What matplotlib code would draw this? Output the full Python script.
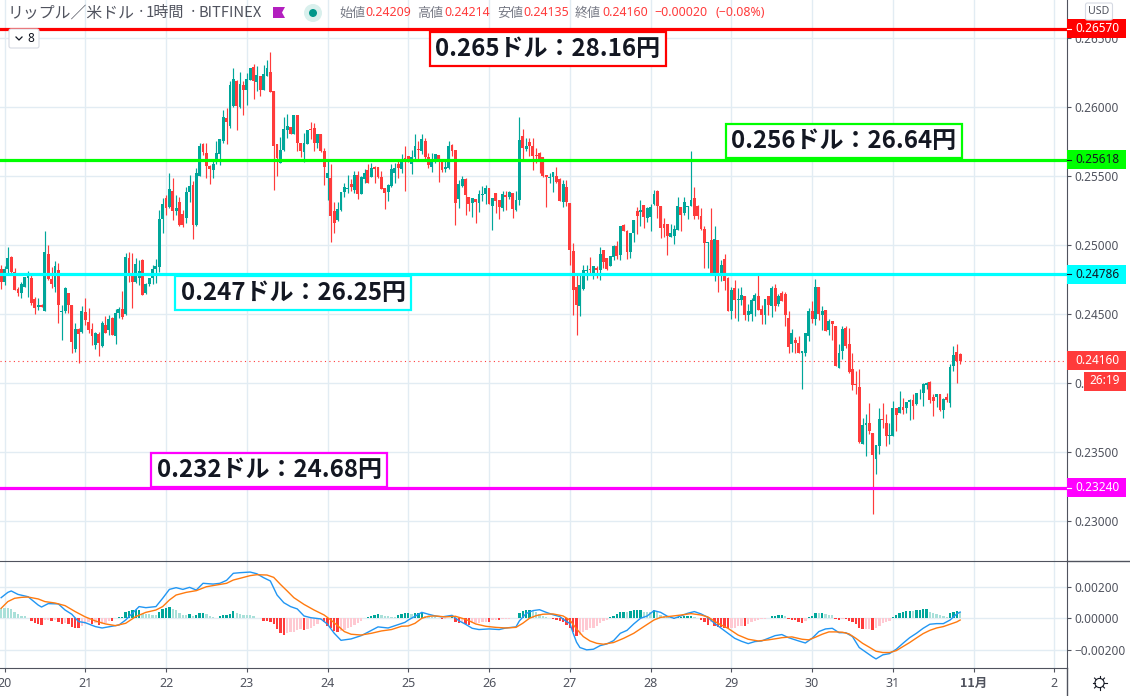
import matplotlib
matplotlib.use("Agg")
import matplotlib.pyplot as plt
from matplotlib.patches import Rectangle, Circle, Polygon, FancyBboxPatch
import numpy as np

plt.rcParams['font.family'] = ['Noto Sans CJK JP', 'DejaVu Sans']

# hourly candles, Oct 19 23:00 onward, prices in 1e-5 USD (one row per day)
opens = [
    24826,24730,24826,24915,24804,24684,24655,24698,24763,24763,24608,24553,24565,24522,24935,24754,24693,24819,24517,24524,24652,24565,24247,24389,24372,
    24515,24442,24394,24271,24353,24268,24420,24384,24469,24343,24505,24536,24498,24906,24800,24734,24760,24891,24650,24717,24758,24826,24843,25186,
    25340,25278,25390,25245,25315,25225,25193,25382,25437,25145,25500,25730,25669,25573,25544,25616,25657,25754,25923,25867,26007,26193,26002,26164,
    26128,26200,26292,26181,26229,26123,26225,26254,26116,25730,25592,25688,25838,25857,25809,25947,25742,25674,25730,25845,25850,25737,25809,25679,
    25488,25488,25249,25181,25251,25384,25403,25440,25396,25510,25367,25481,25544,25490,25568,25563,25495,25411,25387,25428,25524,25585,25548,25630,
    25643,25585,25635,25700,25681,25758,25640,25568,25602,25650,25609,25548,25558,25727,25686,25331,25428,25481,25350,25302,25331,25307,25362,25367,
    25411,25283,25374,25326,25268,25365,25346,25377,25251,25329,25792,25698,25751,25720,25655,25667,25638,25510,25486,25490,25502,25481,25312,25418,
    25304,24959,24696,24556,24681,24809,24821,24797,24834,24821,24962,24906,24850,24913,24990,24925,25147,25099,24949,25087,25249,25239,25292,25196,
    25203,25300,25389,25285,25152,25155,25058,25068,25106,25275,25232,25275,25285,25341,25280,25213,25119,25015,25039,24797,25039,24797,24901,24761,
    24519,24691,24599,24599,24633,24490,24502,24592,24633,24536,24495,24628,24560,24691,24575,24655,24647,24471,24278,24314,24290,24217,24213,24343,
    24524,24464,24696,24495,24531,24382,24452,24415,24109,24229,24399,24278,24097,23988,23971,23553,23693,23710,23633,23445,23541,23734,23705,23614,
    23614,23819,23778,23821,23814,23860,23874,23843,23923,23923,23981,24007,23894,23894,23920,23802,23894,23855,24121,24227,24209,
]
closes = [
    24730,24824,24908,24804,24674,24655,24717,24766,24783,24577,24546,24563,24553,24952,24754,24717,24848,24565,24524,24686,24565,24297,24389,24355,24522,
    24457,24384,24336,24360,24292,24432,24365,24461,24348,24505,24534,24476,24911,24783,24734,24862,24808,24638,24717,24758,24824,24848,25186,25300,
    25265,25410,25245,25265,25145,25145,25382,25430,25145,25522,25722,25674,25573,25553,25585,25669,25766,25930,25891,26164,26205,26007,26171,26123,
    26205,26285,26188,26237,26123,26244,26285,26109,25722,25633,25693,25845,25867,25809,25947,25737,25679,25742,25833,25831,25737,25802,25681,25568,
    25519,25210,25157,25259,25387,25423,25415,25420,25505,25367,25490,25524,25452,25556,25553,25490,25403,25375,25435,25553,25556,25556,25621,25621,
    25621,25640,25722,25686,25766,25640,25578,25609,25664,25606,25541,25568,25722,25681,25307,25440,25481,25362,25300,25338,25312,25367,25367,25411,
    25295,25343,25317,25275,25372,25348,25382,25263,25329,25763,25703,25720,25715,25643,25643,25623,25498,25490,25493,25527,25454,25317,25442,25309,
    24966,24672,24568,24713,24821,24817,24817,24850,24821,24937,24875,24829,24918,24990,24918,25135,25099,24949,25087,25184,25213,25256,25201,25268,
    25275,25372,25285,25123,25123,25063,25087,25116,25280,25220,25312,25285,25329,25213,25213,25119,25015,25020,24797,25044,24797,24858,24742,24519,
    24676,24604,24604,24640,24495,24524,24604,24640,24531,24495,24609,24568,24691,24560,24633,24594,24495,24261,24358,24290,24213,24234,24358,24524,
    24464,24696,24502,24524,24379,24447,24430,24121,24217,24394,24266,24080,23981,23981,23570,23693,23705,23650,23474,23546,23734,23730,23614,23619,
    23819,23763,23826,23802,23862,23872,23831,23928,23928,23988,23995,23872,23867,23920,23800,23884,23872,24118,24205,24155,24160,
]
highs = [
    24855,24850,24985,24923,24836,24693,24734,24770,24812,24783,24626,24616,24573,25100,25000,24843,24884,24867,24565,24693,24652,24565,24432,24396,24558,
    24614,24541,24432,24372,24372,24445,24486,24493,24476,24534,24548,24667,24944,24952,24940,24903,24890,24896,24722,24758,24855,24896,25254,25340,
    25365,25526,25485,25365,25350,25255,25420,25505,25461,25558,25740,25740,25737,25578,25616,25758,25766,25983,25995,26188,26285,26195,26253,26188,
    26249,26287,26316,26297,26229,26309,26345,26403,26116,25734,25785,25930,25954,25857,25947,25947,25742,25814,25838,25894,25882,25802,25809,25705,
    25621,25585,25312,25312,25387,25452,25505,25476,25536,25536,25500,25548,25585,25597,25573,25563,25536,25411,25440,25590,25597,25626,25657,25722,
    25645,25688,25809,25754,25809,25773,25669,25669,25664,25650,25621,25616,25756,25730,25686,25471,25500,25483,25350,25338,25336,25399,25428,25435,
    25411,25343,25374,25326,25389,25389,25389,25377,25389,25928,25841,25775,25775,25775,25703,25672,25638,25510,25522,25527,25565,25486,25474,25474,
    25304,25015,24780,24785,24858,24858,24911,24850,24846,24986,24966,24906,24918,25003,25027,25135,25155,25106,25087,25184,25275,25329,25292,25275,
    25300,25401,25396,25285,25196,25155,25155,25147,25348,25275,25348,25285,25679,25420,25292,25268,25140,25020,25268,25140,25039,24894,24937,24766,
    24696,24749,24688,24696,24633,24572,24616,24652,24792,24563,24609,24628,24700,24720,24647,24664,24659,24519,24394,24333,24343,24234,24358,24543,
    24592,24756,24696,24555,24531,24464,24452,24415,24278,24415,24415,24399,24213,24085,24102,23747,23771,23850,23633,23546,23819,23855,23771,23705,
    23867,23819,23937,23891,23862,23879,23916,23928,23952,23995,24007,24015,23918,23920,23920,23891,23923,24140,24270,24285,24214,
]
lows = [
    24681,24710,24795,24795,24674,24630,24618,24693,24626,24565,24500,24529,24548,24522,24746,24686,24662,24437,24312,24505,24505,24215,24220,24143,24360,
    24420,24360,24275,24246,24198,24263,24360,24348,24348,24283,24469,24464,24493,24734,24546,24722,24710,24638,24645,24702,24717,24722,24807,25090,
    25215,25270,25185,25215,25138,25130,25160,25310,25043,25140,25500,25655,25488,25440,25483,25585,25578,25737,25730,25850,26002,25833,25995,25947,
    26019,26195,26063,26116,26080,26123,26225,26109,25396,25500,25592,25681,25778,25802,25809,25681,25640,25602,25730,25766,25681,25705,25674,25432,
    25326,25022,25085,25174,25244,25350,25374,25391,25379,25336,25367,25447,25447,25490,25452,25488,25403,25259,25321,25423,25447,25483,25524,25389,
    25602,25512,25611,25626,25657,25621,25560,25529,25597,25457,25532,25532,25548,25645,25145,25271,25423,25215,25247,25201,25157,25239,25319,25295,
    25295,25106,25234,25186,25244,25256,25334,25196,25244,25292,25623,25679,25643,25546,25594,25522,25493,25273,25449,25382,25449,25317,25273,25280,
    24858,24495,24350,24483,24677,24749,24785,24754,24761,24749,24834,24821,24846,24894,24899,24894,25099,24901,24906,25020,25082,25140,25123,25164,
    25099,25292,25196,25051,25058,24930,25058,25010,25106,25099,25220,25189,25285,25189,25189,25111,24834,24834,24785,24737,24657,24737,24675,24519,
    24466,24471,24447,24568,24459,24447,24447,24483,24531,24430,24430,24490,24478,24519,24560,24592,24411,24213,24222,24217,24213,23952,24193,24302,
    24435,24423,24459,24386,24379,24348,24307,24121,24109,24176,24254,24068,23947,23916,23565,23553,23469,23631,23046,23336,23481,23674,23541,23553,
    23614,23650,23778,23771,23778,23730,23739,23841,23879,23831,23957,23855,23759,23821,23792,23742,23860,23824,24085,23995,24135,
]

# MACD histogram, 1e-5 units, same hours as the candles
macd_hist = [
    66,65,64,60,38,26,17,13,4,-15,-28,-34,-43,-13,-11,-15,-9,-26,-34,-30,-38,-55,-60,-61,-47,
    -34,-21,-38,-30,-43,-34,-30,-17,-19,4,6,9,43,47,51,53,55,30,26,25,21,20,38,58,
    64,70,60,51,34,23,21,28,15,21,34,35,28,15,6,4,13,19,21,30,45,36,28,23,
    22,21,13,4,1,-17,-19,-23,-38,-66,-92,-107,-94,-89,-85,-75,-70,-74,-70,-60,-51,-34,-11,-26,
    -47,-64,-81,-87,-81,-72,-64,-53,-43,-30,-17,4,11,17,21,28,19,15,13,11,10,23,30,31,
    32,26,32,34,35,15,13,11,9,4,-6,-5,2,6,-26,-30,-26,-36,-43,-30,-29,-28,-26,-21,
    -26,-11,-9,-13,-6,-4,-2,2,4,36,47,53,54,47,40,30,13,6,2,-6,-13,-17,-26,-43,
    -64,-85,-111,-110,-89,-75,-64,-60,-47,-30,-15,-9,9,17,26,38,43,38,47,51,53,54,43,42,
    38,51,38,21,13,9,4,-4,6,11,12,13,14,11,2,-11,-21,-43,-21,-47,-53,-55,-64,-65,
    -64,-60,-51,-50,-52,-34,-26,-17,-11,-6,-2,2,13,15,19,20,13,-2,-13,-14,-21,-28,-17,6,
    15,34,33,36,26,21,19,-6,-13,-4,-6,-17,-21,-34,-64,-70,-68,-67,-72,-64,-47,-32,-26,-17,
    6,19,32,40,45,47,46,53,55,58,59,43,36,28,19,13,11,32,43,44,41,
]

# MACD line, read at these hours
macd_hours = [
    -1,1,2,4,7,10,11,13,16,18,20,22,24,27,29,32,34,36,38,40,42,45,47,49,51,53,55,57,59,62,64,66,68,70,73,75,77,79,81,83,85,87,89,91,94,96,98,100,103,106,108,111,114,117,119,
    120,122,124,126,128,130,133,135,137,139,141,144,147,149,152,153,155,157,159,161,163,165,167,168,169,170,171,173,175,177,179,181,183,185,187,189,191,193,195,197,199,201,203,205,207,209,211,213,215,217,219,221,223,225,227,229,231,
    233,236,238,240,242,244,246,248,250,252,254,256,258,259,261,263,265,267,269,271,273,275,277,279,281,283,284,
]
macd_line = [
    132,166,175,153,138,85,72,94,92,53,26,-21,-28,-53,-62,-51,-43,-11,32,75,68,75,128,185,196,185,198,181,224,219,224,243,288,292,296,285,260,239,149,100,75,60,15,4,-4,-38,-96,-141,-132,-111,-89,-55,-62,-40,-26,
    -11,13,38,26,15,9,19,-15,-38,-64,-72,-68,-72,-62,-55,-17,30,49,55,38,23,11,-21,-32,-96,-153,-187,-202,-198,-175,-164,-143,-96,-77,-36,0,15,49,38,13,0,15,32,43,28,6,-32,-64,-96,-128,-147,-162,-149,-145,-128,-111,-104,
    -124,-145,-158,-128,-85,-68,-64,-92,-92,-117,-187,-217,-247,-260,-234,-226,-198,-160,-124,-96,-64,-38,-34,-34,-11,28,40,
]

# signal line, read at these hours
signal_hours = [
    -1,1,3,5,7,10,12,15,18,21,24,27,30,33,36,39,42,45,47,49,51,54,57,60,63,66,68,70,73,75,78,80,82,84,86,89,92,95,97,99,101,103,106,109,112,115,118,
    120,122,124,126,128,131,134,136,138,140,143,146,149,152,154,156,158,160,163,166,168,170,172,174,176,178,181,184,187,190,193,195,198,201,204,207,209,212,215,218,221,224,227,230,
    231,234,237,239,241,243,245,247,249,251,253,255,257,259,261,263,265,267,269,271,273,275,277,279,281,283,284,
]
signal_line = [
    64,107,128,134,136,124,107,98,81,43,9,-17,-36,-47,-32,11,38,53,75,117,149,166,177,202,213,224,245,256,273,279,277,262,217,175,132,89,53,21,-11,-47,-85,-102,-107,-96,-81,-72,-51,
    -49,-32,0,13,15,9,13,0,-15,-36,-51,-58,-62,-58,-32,0,17,26,28,15,-11,-68,-117,-145,-160,-166,-155,-128,-96,-53,-11,6,13,21,30,21,9,-32,-64,-107,-134,-145,-138,-128,
    -124,-119,-134,-138,-121,-102,-87,-87,-89,-100,-128,-160,-185,-211,-219,-219,-207,-181,-155,-126,-98,-77,-62,-53,-38,-23,-11,
]

day_hours = [0,24,48,72,96,120,144,168,192,216,240,264,288,312]
day_labels = ["20","21","22","23","24","25","26","27","28","29","30","31","11月","2"]

price_ticks = [0.230,0.235,0.240,0.245,0.250,0.255,0.260,0.265]
macd_ticks = [-0.002,0.0,0.002]
macd_tick_labels = ["\u22120.00200","0.00000","0.00200"]

# price, line colour, text colour, annotation text, annotation box left/top px
levels = [
    (0.26570, "#ff0000", "white", "0.265ドル：28.16円", 430, 32),
    (0.25618, "#00ff00", "#131722", "0.256ドル：26.64円", 726, 124),
    (0.24786, "#00ffff", "#131722", "0.247ドル：26.25円", 175, 276),
    (0.23240, "#ff00ff", "white", "0.232ドル：24.68円", 151, 453),
]

UP = "#00a69a"
DOWN = "#ff3b3b"
GRID = "#e2ecf3"
AXIS = "#50535e"
W, H = 1130, 696
TICK_FONT = "Noto Sans"
TICK_SIZE = 8.5

o = np.array(opens) * 1e-5
c = np.array(closes) * 1e-5
hi = np.array(highs) * 1e-5
lo = np.array(lows) * 1e-5
hours = np.arange(-1, len(c) - 1)
cols = [UP if c[i] >= o[i] else DOWN for i in range(len(c))]

fig = plt.figure(figsize=(W / 100, H / 100), dpi=100)
xmin = -4.5 / 3.365
xmax = (1066.5 - 4.5) / 3.365

# price pane
ax = fig.add_axes([0, (H - 561) / H, 1066.5 / W, 561 / H])
ax.set_xlim(xmin, xmax)
ax.set_ylim(0.25 - 316 / 13780, 0.25 + 245 / 13780)
ax.vlines(hours, lo, hi, colors=cols, linewidth=0.85, zorder=3)
ax.bar(hours, np.maximum(np.abs(c - o), 0.00006), bottom=np.minimum(o, c), width=0.85, color=cols, zorder=4)
ax.axhline(c[-1], color=DOWN, linewidth=0.8, linestyle=(0, (1, 3)), zorder=2)
for lev in levels:
    ax.axhline(lev[0], color=lev[1], linewidth=2.3, zorder=5)
ax.set_xticks(day_hours)
ax.tick_params(axis="x", length=0, labelbottom=False)
ax.yaxis.tick_right()
ax.set_yticks(price_ticks)
ax.set_yticklabels(["%.5f" % t for t in price_ticks], family=TICK_FONT, fontsize=TICK_SIZE, color=AXIS)
ax.tick_params(axis="y", length=3, width=0.8, color=AXIS, pad=2.8)

# macd pane
ax2 = fig.add_axes([0, (H - 668) / H, 1066.5 / W, 107 / H])
ax2.set_xlim(xmin, xmax)
ax2.set_ylim(-49.7 / 15625, 57.3 / 15625)
hist = np.array(macd_hist) * 1e-5
hist_cols = []
for i in range(len(hist)):
    rising = i == 0 or hist[i] > hist[i - 1]
    if hist[i] >= 0:
        hist_cols.append(UP if rising and i > 0 else "#a9e0d9")
    else:
        hist_cols.append("#ffc9d2" if rising else DOWN)
ax2.bar(hours, hist, width=0.7, color=hist_cols, zorder=3)
ax2.plot(macd_hours, np.array(macd_line) * 1e-5, color="#2196f3", linewidth=1.0, zorder=4)
ax2.plot(signal_hours, np.array(signal_line) * 1e-5, color="#ff7a0f", linewidth=1.0, zorder=5)
ax2.set_xticks(day_hours)
ax2.set_xticklabels(day_labels, family=TICK_FONT, fontsize=9, color=AXIS)
ax2.get_xticklabels()[12].set_fontweight("bold")
ax2.get_xticklabels()[12].set_family(["Noto Sans CJK JP", "DejaVu Sans"])
ax2.tick_params(axis="x", length=3, width=0.8, color=AXIS, pad=3.5)
ax2.yaxis.tick_right()
ax2.set_yticks(macd_ticks)
ax2.set_yticklabels(macd_tick_labels, family=TICK_FONT, fontsize=TICK_SIZE, color=AXIS)
ax2.tick_params(axis="y", length=3, width=0.8, color=AXIS, pad=2.8)

for a in (ax, ax2):
    a.grid(True, color=GRID, linewidth=1.0)
    a.set_axisbelow(True)
    a.spines["left"].set_visible(False)
    a.spines["right"].set_color(AXIS)
    a.spines["bottom"].set_color(AXIS)
    a.spines["top"].set_color(AXIS)
ax.spines["top"].set_visible(False)
ax.spines["bottom"].set_visible(False)

# everything else goes on a pixel-sized overlay
ov = fig.add_axes([0, 0, 1, 1], zorder=10)
ov.set_xlim(0, W)
ov.set_ylim(H, 0)
ov.axis("off")
ov.plot([1066.5, W], [560.5, 560.5], color=AXIS, linewidth=1)
ov.plot([1066.5, 1066.5], [668, H], color=AXIS, linewidth=1)

fig.canvas.draw()


def price_y(price):
    return H - ax.transData.transform((0, price))[1]


# price tags on the axis
for lev in levels:
    y = price_y(lev[0])
    ov.add_patch(Rectangle((1066.5, y - 9.5), 59.5, 19, facecolor=lev[1], edgecolor="none", zorder=3))
    ov.text(1075, y, "%.5f" % lev[0], color=lev[2], family=TICK_FONT, fontsize=TICK_SIZE, va="center", zorder=4)
    ov.plot([1066.5, 1070.5], [y, y], color=lev[2], linewidth=0.8, zorder=4)
y = price_y(c[-1])
ov.add_patch(Rectangle((1066.5, y - 9.5), 59.5, 19, facecolor=DOWN, edgecolor="none", zorder=3))
ov.text(1075, y, "%.5f" % c[-1], color="white", family=TICK_FONT, fontsize=TICK_SIZE, va="center", zorder=4)
ov.add_patch(Rectangle((1084, 371.5), 42, 19, facecolor=DOWN, edgecolor="none", zorder=3))
ov.text(1105, 381, "26:19", color="white", family=TICK_FONT, fontsize=TICK_SIZE, ha="center", va="center", zorder=4)

# level annotations
for lev in levels:
    ov.add_patch(Rectangle((lev[4], lev[5]), 236, 34, facecolor="white", edgecolor=lev[1], linewidth=1.6, zorder=6))
    ov.text(lev[4] + 118, lev[5] + 17, lev[3], color="#131722", fontsize=17.3, fontweight="bold", ha="center", va="center", zorder=7)

# header
for x, s, size in [(8, "リップル／米ドル", 11.4), (137, "·", 11), (146, "1時間", 10.8), (189, "·", 11), (198, "BITFINEX", 10.6)]:
    ov.text(x, 13, s, color=AXIS, fontsize=size, va="center", zorder=4)
for x, s in [(339, "始値"), (417, "高値"), (497, "安値"), (575, "終値")]:
    ov.text(x, 13, s, color="#787b86", fontsize=9.4, va="center", zorder=4)
for x, s in [(365, "%.5f" % o[-1]), (444, "%.5f" % hi[-1]), (523, "%.5f" % lo[-1]), (602, "%.5f" % c[-1]), (654, "\u22120.00020"), (716, "(\u22120.08%)")]:
    ov.text(x, 13, s, color=DOWN, family=TICK_FONT, fontsize=8.9, va="center", zorder=4)
ov.add_patch(Polygon([(273, 7), (285, 7), (282, 12.5), (285, 18), (273, 18)], facecolor="#b31fbf", edgecolor="none"))
ov.add_patch(Circle((313, 13), 9, facecolor="#d9f0ed", edgecolor="none"))
ov.add_patch(Circle((313, 13), 4, facecolor="#00978a", edgecolor="none"))

# interval control and currency button
ov.add_patch(FancyBboxPatch((9, 29), 30, 19, boxstyle="round,pad=0,rounding_size=2", facecolor="white", edgecolor="#d6dae3", linewidth=0.8, zorder=6))
ov.plot([16, 19, 22], [37, 40, 37], color="#131722", linewidth=0.9, zorder=7)
ov.text(31, 38.5, "8", color="#131722", family=TICK_FONT, fontsize=TICK_SIZE, ha="center", va="center", zorder=7)
ov.add_patch(FancyBboxPatch((1085.5, 3), 27, 17, boxstyle="round,pad=0,rounding_size=2", facecolor="white", edgecolor="#d6dae3", linewidth=0.8, zorder=6))
ov.text(1099, 11.5, "USD", color=AXIS, family=TICK_FONT, fontsize=7.6, ha="center", va="center", zorder=7)

# settings icon
ov.add_patch(Circle((1099.5, 683), 4.6, facecolor="white", edgecolor="#131722", linewidth=0.8))
for ang in np.arange(0, 360, 45):
    dx, dy = np.cos(np.radians(ang)), np.sin(np.radians(ang))
    ov.plot([1099.5 + 4.8 * dx, 1099.5 + 7 * dx], [683 + 4.8 * dy, 683 + 7 * dy], color="#131722", linewidth=0.8)

fig.savefig("out.png", dpi=100)
